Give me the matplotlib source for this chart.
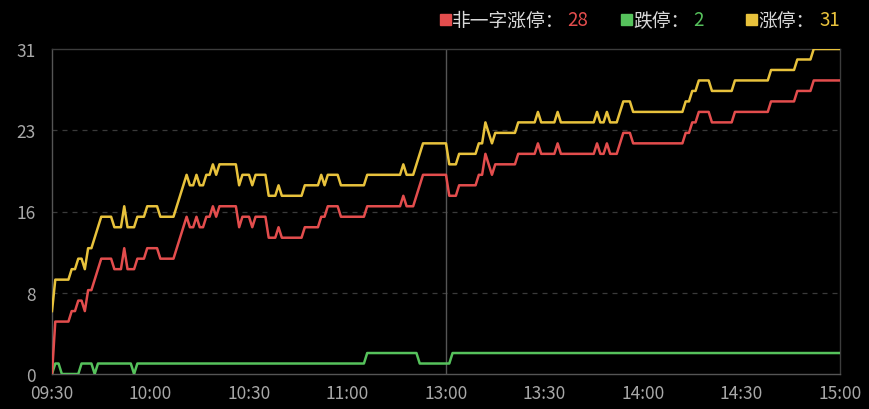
import numpy as np
import matplotlib.pyplot as plt
from matplotlib.patches import Rectangle

plt.rcParams['font.family'] = ['Noto Sans CJK SC', 'DejaVu Sans']

# x axis: one point per trading minute, 09:30 .. 11:30/13:00 .. 15:00
time_ticks = [0, 30, 60, 90, 120, 150, 180, 210, 240]
time_labels = ["09:30", "10:00", "10:30", "11:00", "13:00", "13:30", "14:00", "14:30", "15:00"]
y_ticks = [0, 7.75, 15.5, 23.25, 31]
y_labels = ["0", "8", "16", "23", "31"]

# series as (value, number of minutes) runs
zt_values = [6, 9, 10, 11, 10, 12, 13, 14, 15, 14, 16, 14, 15, 16, 15, 16, 17, 18, 19,
             18, 19, 18, 19, 20, 19, 20, 18, 19, 18, 19, 17, 18, 17, 18, 19, 18, 19, 18,
             19, 20, 19, 20, 21, 22, 20, 21, 22, 24, 23, 22, 23, 24, 25, 24, 25, 24, 25,
             24, 25, 24, 25, 26, 25, 26, 27, 28, 27, 28, 29, 30, 31]
zt_counts = [1, 5, 2, 2, 1, 2, 1, 1, 4, 3, 1, 3, 3, 4, 5, 1, 1, 1, 1,
             2, 1, 2, 2, 1, 1, 6, 1, 3, 1, 4, 3, 1, 7, 5, 1, 1, 4, 8,
             11, 1, 3, 1, 1, 8, 3, 6, 2, 1, 1, 1, 7, 6, 1, 5, 1, 11, 1,
             2, 1, 3, 1, 3, 16, 2, 2, 4, 7, 11, 8, 5, 9]

fyz_values = [0, 5, 6, 7, 6, 8, 9, 10, 11, 10, 12, 10, 11, 12, 11, 12, 13, 14, 15,
              14, 15, 14, 15, 16, 15, 16, 14, 15, 14, 15, 13, 14, 13, 14, 15, 16, 15,
              16, 17, 16, 17, 18, 19, 17, 18, 19, 21, 20, 19, 20, 21, 22, 21, 22, 21,
              22, 21, 22, 21, 22, 23, 22, 23, 24, 25, 24, 25, 26, 27, 28]
fyz_counts = [1, 5, 2, 2, 1, 2, 1, 1, 4, 3, 1, 3, 3, 4, 5, 1, 1, 1, 1,
              2, 1, 2, 2, 1, 1, 6, 1, 3, 1, 4, 3, 1, 7, 5, 2, 4, 8,
              11, 1, 3, 1, 1, 8, 3, 6, 2, 1, 1, 1, 7, 6, 1, 5, 1, 11,
              1, 2, 1, 3, 1, 3, 16, 2, 2, 4, 7, 11, 8, 5, 9]

dt_values = [0, 1, 0, 1, 0, 1, 0, 1, 2, 1, 2]
dt_counts = [1, 2, 6, 4, 1, 11, 1, 70, 16, 10, 119]

RED = "#e34d4d"
GREEN = "#56c25c"
YELLOW = "#e8c23c"
GRID = "#3a3a3a"
LABEL = "#a8a8a8"


def expand(values, counts):
    return np.repeat(np.array(values), np.array(counts))


def main():
    zt = expand(zt_values, zt_counts)
    fyz = expand(fyz_values, fyz_counts)
    dt = expand(dt_values, dt_counts)
    minutes = np.arange(len(zt))

    fig = plt.figure(figsize=(8.7, 4.1), dpi=100, facecolor="black")
    ax = fig.add_axes([52 / 870, 35 / 410, 788 / 870, 325 / 410])
    ax.set_facecolor("black")

    ax.plot(minutes, dt, color=GREEN, lw=1.8, zorder=3)
    ax.plot(minutes, fyz, color=RED, lw=1.8, zorder=4)
    ax.plot(minutes, zt, color=YELLOW, lw=1.8, zorder=5)

    ax.set_xlim(0, 240)
    ax.set_ylim(0, 31)
    ax.set_xticks(time_ticks)
    ax.set_xticklabels(time_labels)
    ax.set_yticks(y_ticks)
    ax.set_yticklabels(y_labels)
    ax.tick_params(length=0, colors=LABEL, labelsize=12.5)
    ax.tick_params(axis="x", pad=7)
    ax.tick_params(axis="y", pad=12)

    for v in y_ticks[1:-1]:
        ax.axhline(v, color=GRID, lw=0.9, ls=(0, (4, 4)), zorder=1)
    ax.axvline(120, color="#555555", lw=1.0, zorder=2)

    for side in ["left", "right", "top", "bottom"]:
        ax.spines[side].set_color("#3c3c3c")
        ax.spines[side].set_linewidth(1.0)
    ax.spines["left"].set_color("#555555")
    ax.spines["bottom"].set_color("#555555")

    # legend at the top right: square, name, latest value
    items = [
        (440, 452, 567, "非一字涨停：", fyz[-1], RED),
        (621, 633, 693, "跌停：", dt[-1], GREEN),
        (746, 758, 819, "涨停：", zt[-1], YELLOW),
    ]
    for sq_x, txt_x, val_x, name, val, color in items:
        fig.patches.append(Rectangle((sq_x / 870, 1 - 26 / 410), 11 / 870, 11 / 410,
                                     transform=fig.transFigure, color=color))
        fig.text(txt_x / 870, 1 - 21 / 410, name, color="#d8d8d8", fontsize=13.5,
                 va="center", ha="left")
        fig.text(val_x / 870, 1 - 21 / 410, f"{val}", color=color, fontsize=13.5,
                 va="center", ha="left")

    fig.savefig("out.png", dpi=100, facecolor="black")
    plt.close(fig)


if __name__ == "__main__":
    main()
